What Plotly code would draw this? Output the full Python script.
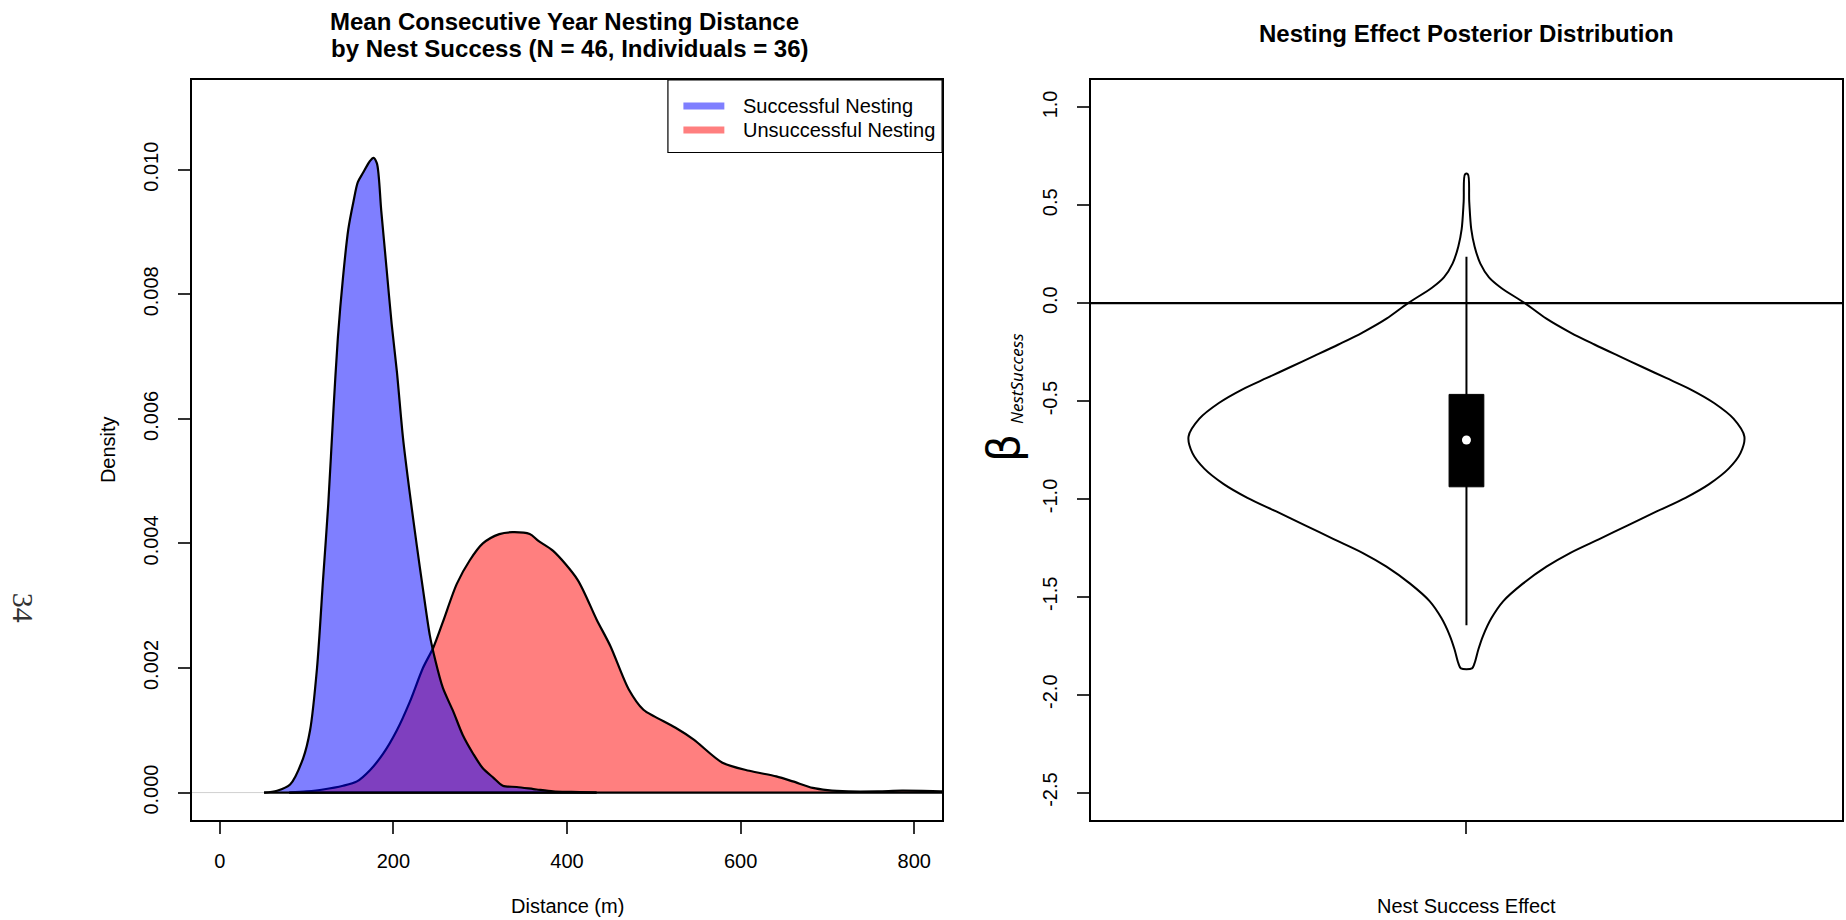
import plotly.graph_objects as go

# ---------------- data ----------------
# Successful nesting density curve (distance m, density)
blue_x = [51, 66, 81, 96, 104, 112, 119, 125, 131, 136, 142, 148, 154, 159, 165, 173, 177,
          181, 186, 192, 198, 204, 211, 219, 227, 234, 242, 248, 257, 269, 280, 292, 303,
          315, 326, 342, 365, 384, 405, 434]
blue_y = [0.0, 0.00003, 0.00013, 0.00055, 0.0010, 0.0020, 0.00343, 0.00464, 0.00616, 0.0073,
          0.00828, 0.00904, 0.00949, 0.0098, 0.00995, 0.01014, 0.01019, 0.0101, 0.00934,
          0.00843, 0.00752, 0.00676, 0.0057, 0.00479, 0.00396, 0.00327, 0.00252, 0.00214,
          0.00168, 0.0013, 0.00092, 0.00062, 0.00039, 0.00024, 0.00011, 0.00009, 0.00005,
          0.00002, 0.00001, 0.0]

# Unsuccessful nesting density curve
red_x = [80, 100, 119, 142, 158, 173, 188, 204, 219, 234, 246, 257, 273, 288, 303, 322, 337,
         357, 367, 384, 412, 434, 450, 471, 488, 501, 525, 546, 579, 610, 641, 660, 683, 700,
         724, 758, 786, 832, 870]
red_y = [0.0, 0.00002, 0.00005, 0.00011, 0.00018, 0.00036, 0.00062, 0.0010, 0.00146, 0.0020,
         0.00233, 0.00274, 0.00335, 0.00373, 0.0040, 0.00415, 0.00418, 0.00415, 0.00404,
         0.00388, 0.00342, 0.00278, 0.00235, 0.00166, 0.00133, 0.00122, 0.00104, 0.00085,
         0.00048, 0.00035, 0.00026, 0.00018, 0.000075, 0.00004, 0.00002, 0.00002, 0.00003,
         0.00002, 0.00001]

x_ticks = [0, 200, 400, 600, 800]
y_ticks = [0.0, 0.002, 0.004, 0.006, 0.008, 0.010]
y_tick_labels = ["0.000", "0.002", "0.004", "0.006", "0.008", "0.010"]

# Posterior violin: y values (top to bottom) and half-widths
violin_y = [0.659, 0.519, 0.378, 0.290, 0.202, 0.132, 0.079, 0.0, -0.079, -0.150, -0.211,
            -0.268, -0.326, -0.382, -0.440, -0.510, -0.590, -0.681, -0.766, -0.845, -0.924,
            -0.994, -1.064, -1.135, -1.205, -1.275, -1.346, -1.434, -1.522, -1.610, -1.698,
            -1.768, -1.839, -1.865]
violin_hw = [0.002, 0.004, 0.0069, 0.0117, 0.020, 0.0324, 0.0496, 0.084, 0.115, 0.1495,
             0.184, 0.218, 0.253, 0.287, 0.322, 0.356, 0.384, 0.3996, 0.394, 0.377, 0.349,
             0.315, 0.2735, 0.232, 0.191, 0.1495, 0.115, 0.0806, 0.053, 0.0358, 0.024,
             0.0172, 0.0117, 0.008]
whisker_low, q1, median, q3, whisker_high = -1.645, -0.938, -0.699, -0.466, 0.237
y2_ticks = [1.0, 0.5, 0.0, -0.5, -1.0, -1.5, -2.0, -2.5]
y2_tick_labels = ["1.0", "0.5", "0.0", "-0.5", "-1.0", "-1.5", "-2.0", "-2.5"]

# ---------------- layout helpers ----------------
W, H = 1846, 920
ML, MR, MT, MB = 192, 2, 80, 100
PW = W - ML - MR
PH = H - MT - MB


def px(x):
    return (x - ML) / PW


def py(y):
    return (H - MB - y) / PH


FONT = "Liberation Sans, Arial, sans-serif"

fig = go.Figure()


def density(xs, ys, fillcolor):
    # filled smooth curve plus the polygon's bottom edge
    fig.add_trace(go.Scatter(
        x=xs, y=ys, mode="lines", fill="tozeroy", fillcolor=fillcolor,
        line=dict(color="black", width=2.2, shape="spline", smoothing=0.8),
        xaxis="x", yaxis="y", showlegend=False, hoverinfo="skip"))
    fig.add_trace(go.Scatter(
        x=[xs[0], xs[-1]], y=[0, 0], mode="lines", line=dict(color="black", width=2.2),
        xaxis="x", yaxis="y", showlegend=False, hoverinfo="skip"))


density(red_x, red_y, "rgba(255,0,0,0.5)")
density(blue_x, blue_y, "rgba(0,0,255,0.5)")

# violin outline
vx = [1 + h for h in violin_hw] + [1 - h for h in reversed(violin_hw)]
vy = violin_y + list(reversed(violin_y))
vx.append(vx[0])
vy.append(vy[0])
fig.add_trace(go.Scatter(x=vx, y=vy, mode="lines",
                         line=dict(color="black", width=2, shape="spline", smoothing=0.9),
                         xaxis="x2", yaxis="y2", showlegend=False, hoverinfo="skip"))
# whisker
fig.add_trace(go.Scatter(x=[1, 1], y=[whisker_low, whisker_high], mode="lines",
                         line=dict(color="black", width=2), xaxis="x2", yaxis="y2",
                         showlegend=False, hoverinfo="skip"))
# box
bw = 0.025
fig.add_trace(go.Scatter(x=[1 - bw, 1 + bw, 1 + bw, 1 - bw, 1 - bw], y=[q1, q1, q3, q3, q1],
                         mode="lines", fill="toself", fillcolor="black",
                         line=dict(color="black", width=1), xaxis="x2", yaxis="y2",
                         showlegend=False, hoverinfo="skip"))
# median
fig.add_trace(go.Scatter(x=[1], y=[median], mode="markers",
                         marker=dict(color="white", size=9, line=dict(width=0)),
                         xaxis="x2", yaxis="y2", showlegend=False, hoverinfo="skip"))

axis_common = dict(showgrid=False, zeroline=False, showline=True, mirror=True,
                   linecolor="black", linewidth=1.5, ticks="outside", ticklen=12,
                   tickwidth=1.5, tickcolor="#333333",
                   tickfont=dict(family=FONT, size=20, color="black"))

fig.update_layout(
    width=W, height=H, margin=dict(l=ML, r=MR, t=MT, b=MB),
    paper_bgcolor="white", plot_bgcolor="white", showlegend=False,
    xaxis=dict(domain=[0, px(943)], range=[-32, 832], tickvals=x_ticks,
               ticklabelstandoff=10, **axis_common),
    yaxis=dict(range=[-0.00044, 0.01144], tickvals=y_ticks, ticktext=y_tick_labels,
               tickangle=-90, ticklabelstandoff=12, **axis_common),
    xaxis2=dict(domain=[px(1092), 1], range=[0.46, 1.54], tickvals=[1], ticktext=[""],
                anchor="y2", **axis_common),
    yaxis2=dict(range=[-2.64, 1.14], tickvals=y2_ticks, ticktext=y2_tick_labels,
                tickangle=-90, anchor="x2", ticklabelstandoff=12, **axis_common),
)

shapes = [
    dict(type="line", xref="x domain", x0=0, x1=1, yref="y", y0=0, y1=0,
         line=dict(color="#D0D0D0", width=1), layer="below"),
    dict(type="line", xref="x2 domain", x0=0, x1=1, yref="y2", y0=0, y1=0,
         line=dict(color="black", width=2.2)),
    dict(type="rect", xref="paper", yref="paper", x0=px(668.5), x1=px(943),
         y0=py(152.5), y1=py(80), line=dict(color="black", width=1.2), fillcolor="white"),
    dict(type="line", xref="paper", yref="paper", x0=px(684), x1=px(725),
         y0=py(106), y1=py(106), line=dict(color="rgba(0,0,255,0.5)", width=7)),
    dict(type="line", xref="paper", yref="paper", x0=px(684), x1=px(725),
         y0=py(130), y1=py(130), line=dict(color="rgba(255,0,0,0.5)", width=7)),
]
fig.update_layout(shapes=shapes)


def ann(text, x, y, size=20, angle=0, bold=False, family=FONT, xanchor="center",
        color="black"):
    if bold:
        text = "<b>" + text + "</b>"
    return dict(text=text, x=px(x), y=py(y), xref="paper", yref="paper",
                showarrow=False, textangle=angle, xanchor=xanchor, yanchor="middle",
                font=dict(family=family, size=size, color=color))


annotations = [
    ann("Mean Consecutive Year Nesting Distance", 565, 21, 24, bold=True),
    ann("by Nest Success (N = 46, Individuals = 36)", 570, 48, 24, bold=True),
    ann("Nesting Effect Posterior Distribution", 1468, 34, 24, bold=True),
    ann("Density", 108, 450, 20, angle=-90),
    ann("Distance (m)", 567.5, 906, 20),
    ann("Nest Success Effect", 1468, 906, 20),
    ann("β", 1004, 448, 44, angle=-90, family="DejaVu Sans, Noto Sans, sans-serif"),
    ann("<i>NestSuccess</i>", 1017, 379, 17, angle=-90,
        family="Noto Sans, DejaVu Sans, sans-serif"),
    ann("34", 24, 608, 30, angle=90, family="Liberation Serif, Times New Roman, serif",
        color="#333333"),
    ann("Successful Nesting", 741.6, 106, 20, xanchor="left"),
    ann("Unsuccessful Nesting", 741.6, 130, 20, xanchor="left"),
]
fig.update_layout(annotations=annotations)

fig.write_html(
    "out.html",
    config={"displayModeBar": False},
    post_script="document.body.style.margin='0px';document.body.style.overflow='hidden';",
)
